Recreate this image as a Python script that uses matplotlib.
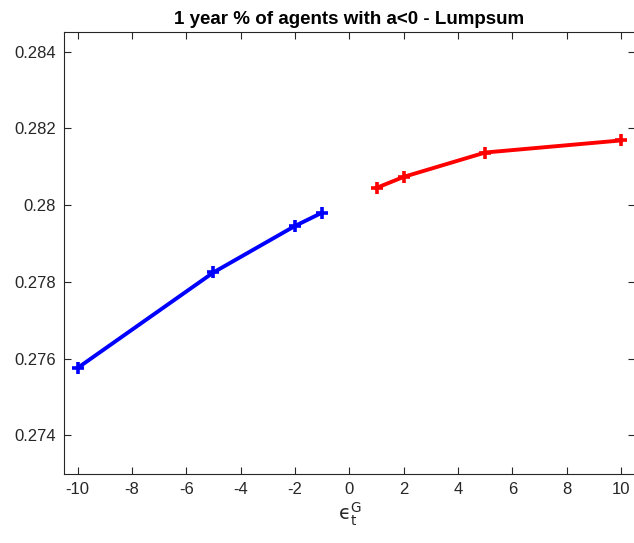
import matplotlib
matplotlib.use("Agg")
import matplotlib.pyplot as plt

plt.rcParams['font.family'] = ['Liberation Sans', 'DejaVu Sans']
plt.rcParams['mathtext.fontset'] = 'custom'
plt.rcParams['mathtext.rm'] = 'DejaVu Sans'
plt.rcParams['mathtext.it'] = 'DejaVu Sans:italic'

x_neg = [-10, -5, -2, -1]
y_neg = [0.275755, 0.278245, 0.279456, 0.279803]
x_pos = [1, 2, 5, 10]
y_pos = [0.280448, 0.280735, 0.281370, 0.281685]
xticks = [-10, -8, -6, -4, -2, 0, 2, 4, 6, 8, 10]
yticks = [0.274, 0.276, 0.278, 0.280, 0.282, 0.284]
ytick_labels = ['0.274', '0.276', '0.278', '0.28', '0.282', '0.284']

fig = plt.figure(figsize=(6.34, 5.43), dpi=100)
ax = fig.add_axes([0.101, 0.127, 0.900, 0.814])

ax.plot(x_neg, y_neg, color='#0000ff', lw=2.8, marker='+', ms=9, mew=2.6)
ax.plot(x_pos, y_pos, color='#ff0000', lw=2.8, marker='+', ms=9, mew=2.6)

ax.set_xlim(-10.5, 10.5)
ax.set_ylim(0.27299, 0.28451)
ax.set_xticks(xticks)
ax.set_xticklabels([str(t) for t in xticks])
ax.set_yticks(yticks)
ax.set_yticklabels(ytick_labels)

for s in ax.spines.values():
    s.set_color('#262626')
    s.set_linewidth(0.8)
ax.tick_params(direction='in', top=True, right=True, length=5, width=0.8,
               colors='#262626', labelsize=12, pad=6)
for lab in ax.get_xticklabels() + ax.get_yticklabels():
    lab.set_color('#262626')

ax.set_title('1 year % of agents with a<0 - Lumpsum', fontsize=13.5, fontweight='bold', pad=6)
ax.set_xlabel('$\\mathrm{\u03f5}_\\mathrm{t}^\\mathrm{G}$', fontsize=14, color='#262626', labelpad=2)

fig.savefig('out.png', dpi=100)
